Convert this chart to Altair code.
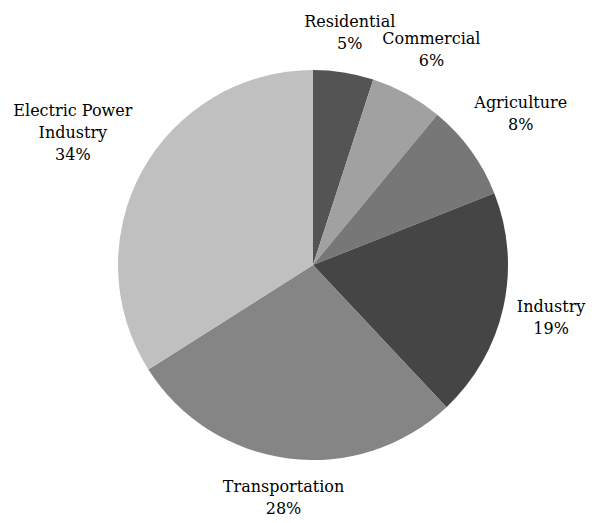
import altair as alt
import pandas as pd

names = ["Residential", "Commercial", "Agriculture", "Industry", "Transportation", "Electric Power Industry"]
label_names = ["Residential", "Commercial", "Agriculture", "Industry", "Transportation", "Electric Power\nIndustry"]
values = [5, 6, 8, 19, 28, 34]
colors = ["#545454", "#a1a1a1", "#777777", "#454545", "#858585", "#c0c0c0"]

df = pd.DataFrame({"idx": list(range(len(names))), "name": names, "lname": label_names, "value": values})

arcs = alt.Chart(df).mark_arc(outerRadius=195, strokeWidth=0).encode(
    theta=alt.Theta("value:Q", stack=True),
    order=alt.Order("idx:Q"),
    color=alt.Color("name:N", scale=alt.Scale(domain=names, range=colors), legend=None),
)

texts = alt.Chart(df).transform_window(
    cum="sum(value)", sort=[alt.SortField("idx")], frame=[None, 0]
).transform_joinaggregate(
    total="sum(value)"
).transform_calculate(
    mid="(datum.cum - datum.value/2) / datum.total * 2 * PI",
    nl="indexof(datum.lname, '\\n')",
).transform_calculate(
    maxlen="datum.nl >= 0 ? max(datum.nl, length(datum.lname) - datum.nl - 1) : length(datum.lname)",
    nlines="datum.nl >= 0 ? 3 : 2",
    label="datum.lname + '\\n' + datum.value + '%'",
).transform_calculate(
    r="206 + datum.maxlen * 8.5 / 2 * abs(sin(datum.mid)) + datum.nlines * 22 / 2 * abs(cos(datum.mid))"
).transform_calculate(
    px="datum.r * sin(datum.mid)",
    py="datum.r * cos(datum.mid) + (datum.nlines - 1) * 11",
).transform_calculate(
    th="atan2(datum.px, datum.py)",
    rr="sqrt(datum.px * datum.px + datum.py * datum.py)",
).mark_text(
    font="DejaVu Serif", fontSize=16, lineBreak="\n", lineHeight=22,
    align="center", baseline="middle", color="#000000"
).encode(
    theta=alt.Theta("th:Q", scale=None, stack=None),
    radius=alt.Radius("rr:Q", scale=None),
    text="label:N",
)

chart = alt.layer(arcs, texts).resolve_scale(theta="independent").properties(
    width=400, height=400,
    autosize=alt.AutoSizeParams(type="none"),
    padding={"left": 105, "top": 57, "right": 74, "bottom": 58},
).configure_view(strokeWidth=0)

chart.save("out.html", embed_options={"renderer": "svg", "actions": False})
